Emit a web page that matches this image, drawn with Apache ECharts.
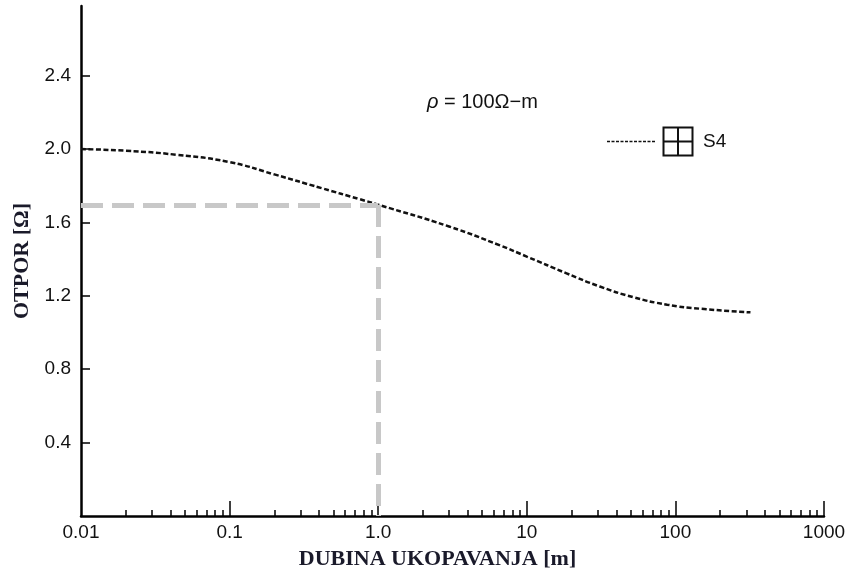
<!DOCTYPE html>
<html>
<head>
<meta charset="utf-8">
<script src="https://cdn.jsdelivr.net/npm/echarts@6/dist/echarts.min.js"></script>
<style>html,body{margin:0;padding:0;background:#fff}#c{width:850px;height:575px}</style>
</head>
<body>
<div id="c"></div>
<script>
// Data
var depth = [0.01, 0.02, 0.044, 0.1, 0.2, 0.42, 0.75, 1.0, 3.0, 6.6, 10, 18.5, 31, 52, 88, 146, 320];
var resistance = [2.000, 1.991, 1.969, 1.929, 1.862, 1.786, 1.727, 1.697, 1.578, 1.475, 1.414, 1.323, 1.251, 1.193, 1.152, 1.130, 1.110];
var yTicks = [0.4, 0.8, 1.2, 1.6, 2.0, 2.4];
var xMajorTicks = [0.1, 1, 10, 100, 1000];
var xLabels = [0.01, 0.1, 1, 10, 100, 1000];
var xMinorTicks = [];
[0.01, 0.1, 1, 10, 100].forEach(function (d) { for (var k = 2; k <= 9; k++) xMinorTicks.push(+(d * k).toPrecision(3)); });
var guideDepth = 1.0;
var guideResistance = 1.695;
var seriesName = 'S4';

var chart = echarts.init(document.getElementById('c'));
var labelFont = { fontFamily: 'Liberation Sans, Arial, sans-serif', fontSize: 19, color: '#111' };
var titleFont = { fontFamily: 'Liberation Serif, Times New Roman, serif', fontWeight: 'bold', fontSize: 22, color: '#1a1a2a' };
chart.setOption({
  animation: false,
  grid: { left: 81, right: 26, top: 6, bottom: 57.5 },
  xAxis: [{
    type: 'log', logBase: 10, min: 0.01, max: 1000,
    name: 'DUBINA UKOPAVANJA [m]', nameLocation: 'middle', nameGap: 32,
    nameTextStyle: Object.assign({ padding: [0, 30, 0, 0] }, titleFont),
    axisLine: { lineStyle: { color: '#000', width: 2.5 } },
    axisTick: { inside: true, length: 15, lineStyle: { color: '#000', width: 1.5 }, customValues: xMajorTicks },
    axisLabel: Object.assign({ margin: 7, customValues: xLabels, formatter: function (v) { return v === 1 ? '1.0' : String(v); } }, labelFont),
    splitLine: { show: false }, minorTick: { show: false }
  }, {
    type: 'log', logBase: 10, min: 0.01, max: 1000, position: 'bottom',
    axisLine: { show: false },
    axisTick: { inside: true, length: 6, lineStyle: { color: '#000', width: 1.5 }, customValues: xMinorTicks },
    axisLabel: { show: false }, splitLine: { show: false }
  }],
  yAxis: {
    type: 'value', min: 0, max: 2.78,
    name: 'OTPOR [Ω]', nameLocation: 'middle', nameGap: 48,
    nameTextStyle: titleFont,
    axisLine: { show: true, lineStyle: { color: '#000', width: 2.5 } },
    axisTick: { show: true, inside: true, length: 9, lineStyle: { color: '#000', width: 1.5 }, customValues: yTicks },
    axisLabel: Object.assign({ margin: 10, customValues: yTicks, formatter: function (v) { return v.toFixed(1); } }, labelFont),
    splitLine: { show: false }
  },
  graphic: [
    { type: 'text', x: 427, y: 102, style: { verticalAlign: 'middle', rich: { r: { fontStyle: 'italic', fontFamily: 'Liberation Sans, Arial, sans-serif', fontSize: 20, fill: '#111' }, t: { fontFamily: 'Liberation Sans, Arial, sans-serif', fontSize: 20, fill: '#111' } }, text: '{r|ρ}{t| = 100Ω−m}' } },
    { type: 'line', shape: { x1: 607, y1: 141.5, x2: 656, y2: 141.5 }, style: { stroke: '#111', lineWidth: 1.5, lineDash: [3, 1.5] } },
    { type: 'rect', shape: { x: 663.5, y: 127.5, width: 29, height: 28 }, style: { fill: 'none', stroke: '#111', lineWidth: 2 } },
    { type: 'line', shape: { x1: 678, y1: 127.5, x2: 678, y2: 155.5 }, style: { stroke: '#111', lineWidth: 2 } },
    { type: 'line', shape: { x1: 663.5, y1: 141.5, x2: 692.5, y2: 141.5 }, style: { stroke: '#111', lineWidth: 2 } },
    { type: 'text', x: 703, y: 142, style: { text: seriesName, verticalAlign: 'middle', fontFamily: 'Liberation Sans, Arial, sans-serif', fontSize: 19, fill: '#111' } }
  ],
  series: [{
    name: seriesName, type: 'line', smooth: 0.5, showSymbol: false,
    data: depth.map(function (d, i) { return [d, resistance[i]]; }),
    lineStyle: { color: '#111', width: 2.5, type: [5, 2.5] },
    markLine: {
      silent: true, symbol: 'none', label: { show: false },
      lineStyle: { color: '#c8c8c8', width: 5, type: [22, 9] },
      data: [
        [{ coord: [0.01, guideResistance] }, { coord: [guideDepth, guideResistance] }],
        [{ coord: [guideDepth, guideResistance] }, { coord: [guideDepth, 0] }]
      ]
    }
  }]
});
</script>
</body>
</html>
